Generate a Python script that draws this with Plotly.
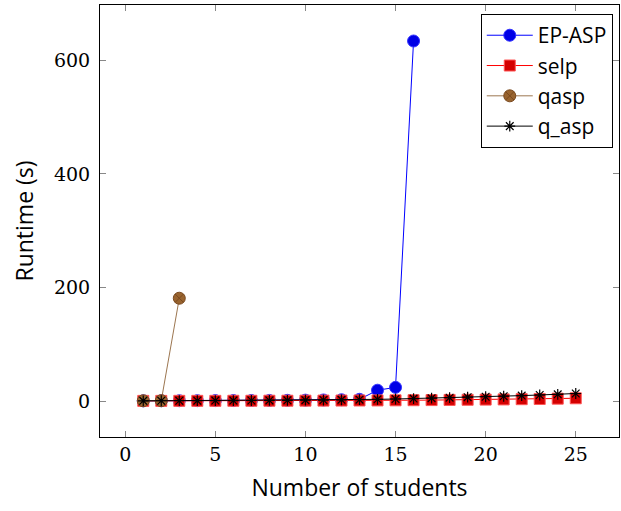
import plotly.graph_objects as go

ep_x = list(range(1, 17))
ep_y = [0.3, 0.4, 0.5, 0.6, 0.7, 0.8, 0.9, 1.0, 1.2, 1.5, 1.8, 2.2, 3.0, 19, 24, 634]

selp_x = list(range(1, 26))
selp_y = [0.2, 0.2, 0.3, 0.3, 0.3, 0.4, 0.4, 0.5, 0.5, 0.6, 0.7, 0.8, 0.9, 1.0, 1.2,
          1.4, 1.6, 1.9, 2.2, 2.5, 2.8, 3.2, 3.6, 4.1, 4.8]

qasp_x = [1, 2, 3]
qasp_y = [0.4, 0.6, 181]

q_asp_x = list(range(1, 26))
q_asp_y = [0.3, 0.4, 0.5, 0.6, 0.7, 0.8, 0.9, 1.0, 1.2, 1.4, 1.7, 2.0, 2.4, 2.9, 3.5,
           4.2, 5.0, 5.8, 6.7, 7.5, 8.4, 9.5, 10.6, 11.8, 13.2]

x_ticks = [0, 5, 10, 15, 20, 25]
y_ticks = [0, 200, 400, 600]

fig = go.Figure()
fig.add_trace(go.Scatter(x=ep_x, y=ep_y, name="EP-ASP", mode="lines+markers",
                         line=dict(color="#0000ff", width=1),
                         marker=dict(symbol="circle", size=12, color="#0000e6",
                                     line=dict(color="#3333ff", width=1))))
fig.add_trace(go.Scatter(x=selp_x, y=selp_y, name="selp", mode="lines+markers",
                         line=dict(color="#ff0000", width=1),
                         marker=dict(symbol="square", size=11, color="#d40000",
                                     line=dict(color="#ff5555", width=1))))
fig.add_trace(go.Scatter(x=qasp_x, y=qasp_y, name="qasp", mode="lines+markers",
                         line=dict(color="#9c7650", width=1),
                         marker=dict(symbol="circle-x", size=12, color="#99642f",
                                     line=dict(color="#7a4a20", width=1))))
fig.add_trace(go.Scatter(x=q_asp_x, y=q_asp_y, name="q_asp", mode="lines+markers",
                         line=dict(color="#000000", width=1),
                         marker=dict(symbol="asterisk", size=9, color="#000000",
                                     line=dict(color="#000000", width=1.2))))

axis_common = dict(showline=True, linecolor="black", linewidth=1, mirror="ticks",
                   ticks="inside", ticklen=6, tickcolor="#888888", tickwidth=1,
                   showgrid=False, zeroline=False,
                   tickfont=dict(family="DejaVu Serif", size=19, color="black"),
                   title_font=dict(family="Open Sans", size=23, color="black"))

fig.update_xaxes(range=[-1.4, 27.4], tickvals=x_ticks, title_text="Number of students",
                 title_standoff=16, **axis_common)
fig.update_yaxes(range=[-63.4, 697.4], tickvals=y_ticks, title_text="Runtime (s)",
                 title_standoff=13, ticklabelstandoff=5, **axis_common)

fig.update_layout(
    width=621, height=511,
    margin=dict(l=100, r=2, t=5, b=74, autoexpand=False),
    paper_bgcolor="white", plot_bgcolor="white",
    showlegend=True,
    legend=dict(x=0.988, y=0.979, xanchor="right", yanchor="top",
                bordercolor="black", borderwidth=1, bgcolor="white",
                font=dict(family="Open Sans", size=21, color="black"),
                tracegroupgap=0, itemwidth=46, entrywidth=110),
)

fig.write_html("out.html", config={"displayModeBar": False},
               post_script="document.body.style.margin='0';document.body.style.padding='0';")
